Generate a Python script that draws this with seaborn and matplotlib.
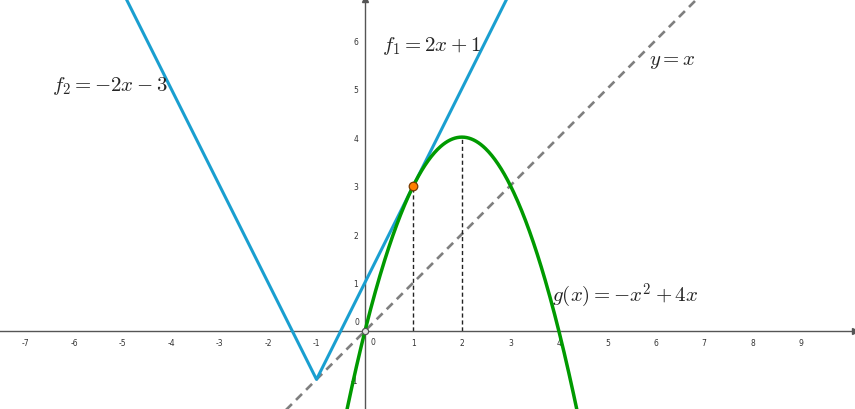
import numpy as np
import pandas as pd
import seaborn as sns
import matplotlib.pyplot as plt

# data
v_x = [-5.0, -1.0, 3.0]          # f2 on the left, f1 on the right, meeting at (-1, -1)
v_y = [7.0, -1.0, 7.0]
diag_x = [-2.0, 8.0]             # y = x
diag_y = [-2.0, 8.0]
g_coef = [-1, 4, 0]              # g(x) = -x^2 + 4x
g_xrange = [-0.45, 4.4]
drop_x = [1, 2]                  # vertical dashed drops
drop_y = [3, 4]
point_x = [1]
point_y = [3]
xticks = [-7, -6, -5, -4, -3, -2, -1, 1, 2, 3, 4, 5, 6, 7, 8, 9]
yticks = [-1, 1, 2, 3, 4, 5, 6]

sns.set_style("white")
plt.rcParams["mathtext.fontset"] = "cm"
plt.rcParams["axes.unicode_minus"] = False

blue = "#1a9fd0"
green = "#009a00"

fig = plt.figure(figsize=(8.55, 4.1), dpi=100)
ax = fig.add_axes([0, 0, 1, 1])

gx = np.linspace(g_xrange[0], g_xrange[1], 300)
g_df = pd.DataFrame({"x": gx, "y": np.polyval(g_coef, gx)})

sns.lineplot(x=diag_x, y=diag_y, ax=ax, color="#7f7f7f", lw=1.9, dashes=False,
             linestyle=(0, (3.2, 2.2)), zorder=2)
sns.lineplot(x=v_x, y=v_y, ax=ax, color=blue, lw=2.2, sort=False, zorder=3)
sns.lineplot(data=g_df, x="x", y="y", ax=ax, color=green, lw=2.5, sort=False, zorder=4)
for dx, dy in zip(drop_x, drop_y):
    ax.plot([dx, dx], [0, dy], color="#222222", lw=1.0, linestyle=(0, (3, 2)), zorder=2)
sns.scatterplot(x=point_x, y=point_y, ax=ax, color="#ff7f00", edgecolor="#7a3a00",
                s=38, linewidth=0.9, zorder=6)
ax.plot([0], [0], marker="o", ms=4.5, mfc="#e0e0e0", mec="#555555", mew=0.9, zorder=6)

ax.set_xlim(-7.53, 10.11)
ax.set_ylim(-1.61, 6.85)
ax.set_xlabel("")
ax.set_ylabel("")

# axes through the origin
for s in ["top", "right"]:
    ax.spines[s].set_visible(False)
for s in ["left", "bottom"]:
    ax.spines[s].set_position("zero")
    ax.spines[s].set_color("#555555")
    ax.spines[s].set_linewidth(1.0)
ax.set_xticks(xticks)
ax.set_yticks(yticks)
ax.tick_params(axis="both", direction="inout", length=4, width=0.8, color="#555555",
               labelsize=5.5, labelcolor="#333333", pad=3)
ax.plot(1, 0, ">", transform=ax.get_yaxis_transform(), clip_on=False, color="#555555", ms=4)
ax.plot(0, 1, "^", transform=ax.get_xaxis_transform(), clip_on=False, color="#555555", ms=4)
ax.text(-0.12, 0.1, "0", fontsize=5.5, color="#333333", ha="right", va="bottom")
ax.text(0.12, -0.12, "0", fontsize=5.5, color="#333333", ha="left", va="top")

# labels
ax.text(0.35, 5.9, r"$f_1 = 2x + 1$", fontsize=15, ha="left", va="center")
ax.text(-6.45, 5.08, r"$f_2 = -2x - 3$", fontsize=15, ha="left", va="center")
ax.text(5.85, 5.6, r"$y = x$", fontsize=15, ha="left", va="center")
ax.text(3.85, 0.75, r"$g(x) = -x^2 + 4x$", fontsize=15, ha="left", va="center")

fig.savefig("out.png", dpi=100)
